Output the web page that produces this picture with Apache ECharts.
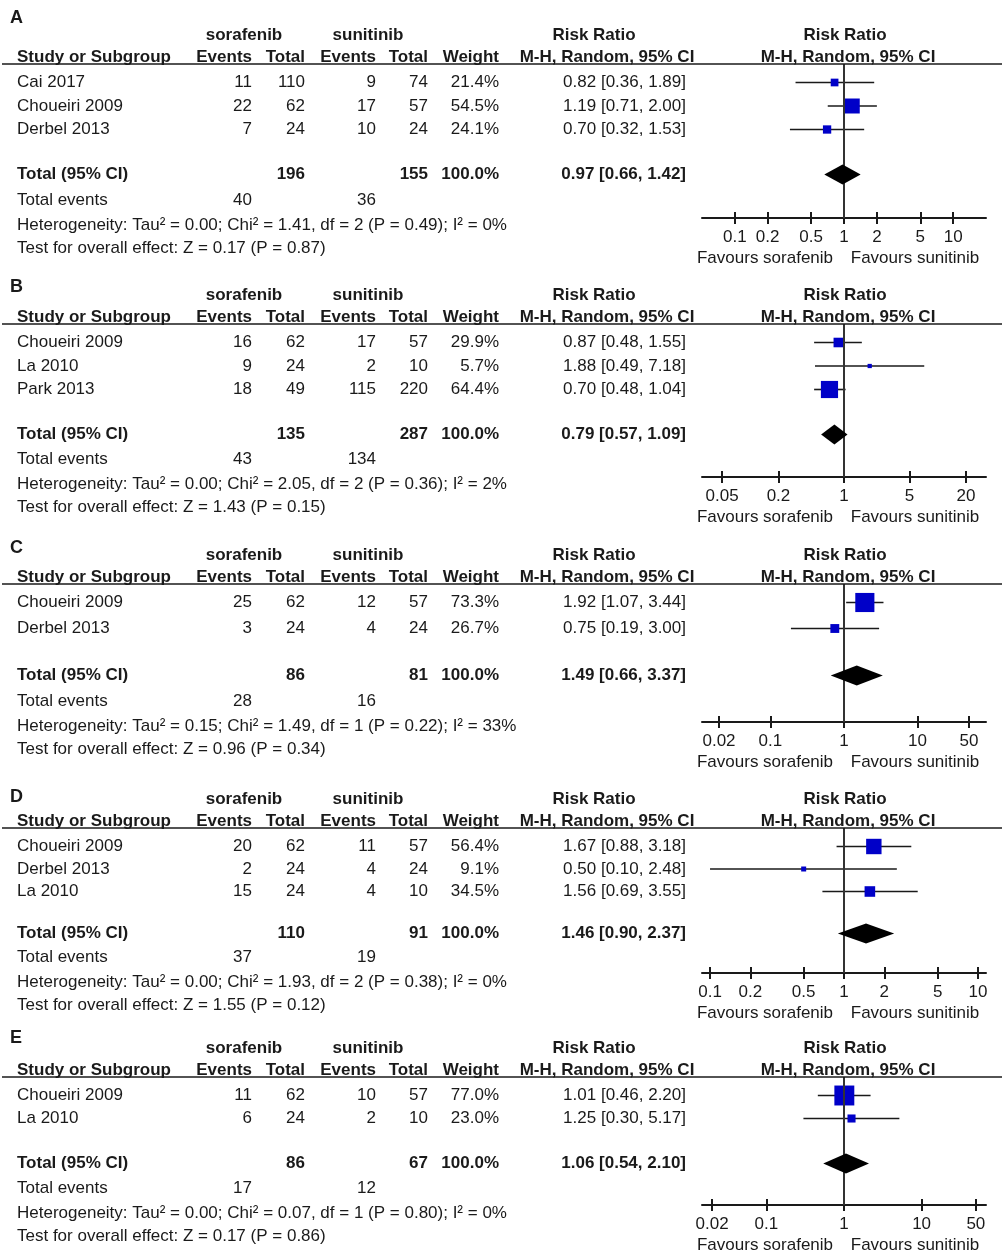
<!DOCTYPE html>
<html><head><meta charset="utf-8">
<script src="https://cdn.jsdelivr.net/npm/echarts@6/dist/echarts.min.js"></script>
<style>html,body{margin:0;padding:0;background:#fff}#c{width:1005px;height:1254px}</style>
</head><body><div id="c"></div>
<script>
// ---------------- DATA ----------------
// Panel A
const studiesA = ['Cai 2017', 'Choueiri 2009', 'Derbel 2013'];
const soraEventsA = [11, 22, 7];
const soraTotalA = [110, 62, 24];
const suniEventsA = [9, 17, 10];
const suniTotalA = [74, 57, 24];
const weightA = [21.4, 54.5, 24.1];
const rrA = [0.82, 1.19, 0.70];
const loA = [0.36, 0.71, 0.32];
const hiA = [1.89, 2.00, 1.53];
const pooledA = [0.97, 0.66, 1.42];
const totalNA = [196, 155];
const totalEventsA = [40, 36];
const hetA = 'Heterogeneity: Tau² = 0.00; Chi² = 1.41, df = 2 (P = 0.49); I² = 0%';
const testA = 'Test for overall effect: Z = 0.17 (P = 0.87)';
const ticksA = [0.1, 0.2, 0.5, 1, 2, 5, 10];

// Panel B
const studiesB = ['Choueiri 2009', 'La 2010', 'Park 2013'];
const soraEventsB = [16, 9, 18];
const soraTotalB = [62, 24, 49];
const suniEventsB = [17, 2, 115];
const suniTotalB = [57, 10, 220];
const weightB = [29.9, 5.7, 64.4];
const rrB = [0.87, 1.88, 0.70];
const loB = [0.48, 0.49, 0.48];
const hiB = [1.55, 7.18, 1.04];
const pooledB = [0.79, 0.57, 1.09];
const totalNB = [135, 287];
const totalEventsB = [43, 134];
const hetB = 'Heterogeneity: Tau² = 0.00; Chi² = 2.05, df = 2 (P = 0.36); I² = 2%';
const testB = 'Test for overall effect: Z = 1.43 (P = 0.15)';
const ticksB = [0.05, 0.2, 1, 5, 20];

// Panel C
const studiesC = ['Choueiri 2009', 'Derbel 2013'];
const soraEventsC = [25, 3];
const soraTotalC = [62, 24];
const suniEventsC = [12, 4];
const suniTotalC = [57, 24];
const weightC = [73.3, 26.7];
const rrC = [1.92, 0.75];
const loC = [1.07, 0.19];
const hiC = [3.44, 3.00];
const pooledC = [1.49, 0.66, 3.37];
const totalNC = [86, 81];
const totalEventsC = [28, 16];
const hetC = 'Heterogeneity: Tau² = 0.15; Chi² = 1.49, df = 1 (P = 0.22); I² = 33%';
const testC = 'Test for overall effect: Z = 0.96 (P = 0.34)';
const ticksC = [0.02, 0.1, 1, 10, 50];

// Panel D
const studiesD = ['Choueiri 2009', 'Derbel 2013', 'La 2010'];
const soraEventsD = [20, 2, 15];
const soraTotalD = [62, 24, 24];
const suniEventsD = [11, 4, 4];
const suniTotalD = [57, 24, 10];
const weightD = [56.4, 9.1, 34.5];
const rrD = [1.67, 0.50, 1.56];
const loD = [0.88, 0.10, 0.69];
const hiD = [3.18, 2.48, 3.55];
const pooledD = [1.46, 0.90, 2.37];
const totalND = [110, 91];
const totalEventsD = [37, 19];
const hetD = 'Heterogeneity: Tau² = 0.00; Chi² = 1.93, df = 2 (P = 0.38); I² = 0%';
const testD = 'Test for overall effect: Z = 1.55 (P = 0.12)';
const ticksD = [0.1, 0.2, 0.5, 1, 2, 5, 10];

// Panel E
const studiesE = ['Choueiri 2009', 'La 2010'];
const soraEventsE = [11, 6];
const soraTotalE = [62, 24];
const suniEventsE = [10, 2];
const suniTotalE = [57, 10];
const weightE = [77.0, 23.0];
const rrE = [1.01, 1.25];
const loE = [0.46, 0.30];
const hiE = [2.20, 5.17];
const pooledE = [1.06, 0.54, 2.10];
const totalNE = [86, 67];
const totalEventsE = [17, 12];
const hetE = 'Heterogeneity: Tau² = 0.00; Chi² = 0.07, df = 1 (P = 0.80); I² = 0%';
const testE = 'Test for overall effect: Z = 0.17 (P = 0.86)';
const ticksE = [0.02, 0.1, 1, 10, 50];

// ---------------- LAYOUT (positions / styles) ----------------
const FONT = '"Liberation Sans", Arial, Helvetica, sans-serif';
const FS = 17;
const INK = '#1a1a1a';
const BLUE = '#0000c8';
const COL = { study: 17, ev1: 252, n1: 305, ev2: 376, n2: 428, w: 499, rr: 686 };
const PLOT_LEFT = 702, PLOT_W = 284;

const panels = [
  { letter: 'A', studies: studiesA, se: soraEventsA, sn: soraTotalA, ue: suniEventsA, un: suniTotalA, w: weightA, rr: rrA, lo: loA, hi: hiA, pooled: pooledA, tn: totalNA, te: totalEventsA, het: hetA, test: testA, ticks: ticksA,
    lay: { letterY: 18, L: 64, axisY: 218, half: 1.30, step: 23.5, gap: 45, evGap: 26 } },
  { letter: 'B', studies: studiesB, se: soraEventsB, sn: soraTotalB, ue: suniEventsB, un: suniTotalB, w: weightB, rr: rrB, lo: loB, hi: hiB, pooled: pooledB, tn: totalNB, te: totalEventsB, het: hetB, test: testB, ticks: ticksB,
    lay: { letterY: 287, L: 324, axisY: 477, half: 1.515, step: 23.5, gap: 45, evGap: 25 } },
  { letter: 'C', studies: studiesC, se: soraEventsC, sn: soraTotalC, ue: suniEventsC, un: suniTotalC, w: weightC, rr: rrC, lo: loC, hi: hiC, pooled: pooledC, tn: totalNC, te: totalEventsC, het: hetC, test: testC, ticks: ticksC,
    lay: { letterY: 548, L: 584, axisY: 722, half: 1.93, step: 26, gap: 47, evGap: 26 } },
  { letter: 'D', studies: studiesD, se: soraEventsD, sn: soraTotalD, ue: suniEventsD, un: suniTotalD, w: weightD, rr: rrD, lo: loD, hi: hiD, pooled: pooledD, tn: totalND, te: totalEventsD, het: hetD, test: testD, ticks: ticksD,
    lay: { letterY: 797, L: 828, axisY: 973, half: 1.06, step: 22.5, gap: 42, evGap: 24 } },
  { letter: 'E', studies: studiesE, se: soraEventsE, sn: soraTotalE, ue: suniEventsE, un: suniTotalE, w: weightE, rr: rrE, lo: loE, hi: hiE, pooled: pooledE, tn: totalNE, te: totalEventsE, het: hetE, test: testE, ticks: ticksE,
    lay: { letterY: 1038, L: 1077, axisY: 1205, half: 1.83, step: 23, gap: 45, evGap: 25 } }
];

const FIRST = 18.5; // offset of first row below header rule

function txt(x, y, s, align, bold, size) {
  return { type: 'text', x: x, y: y, silent: true, z: 10,
    style: { text: s, fill: INK, font: (bold ? 'bold ' : '') + (size || FS) + 'px ' + FONT,
      textAlign: align || 'left', align: align || 'left', textVerticalAlign: 'middle', verticalAlign: 'middle' } };
}
const lg = Math.log10;
const fmtRR = (a, b, c) => a.toFixed(2) + ' [' + b.toFixed(2) + ', ' + c.toFixed(2) + ']';

const grids = [], xAxes = [], yAxes = [], series = [], graphics = [];

panels.forEach((p, k) => {
  const ly = p.lay;
  const n = p.studies.length;
  const totalIdx = (n - 1) + ly.gap / ly.step;
  const rowY = idx => ly.L + FIRST + ly.step * idx;
  const yTot = rowY(totalIdx);
  const yEv = yTot + ly.evGap;
  const yHet = yEv + 24.5;
  const yTest = yHet + 23.5;

  // header
  graphics.push(txt(10, ly.letterY, p.letter, 'left', true, 18));
  graphics.push(txt(244, ly.L - 29, 'sorafenib', 'center', true));
  graphics.push(txt(368, ly.L - 29, 'sunitinib', 'center', true));
  graphics.push(txt(594, ly.L - 29, 'Risk Ratio', 'center', true));
  graphics.push(txt(845, ly.L - 29, 'Risk Ratio', 'center', true));
  const h2 = ly.L - 6.5;
  graphics.push(txt(COL.study, h2, 'Study or Subgroup', 'left', true));
  graphics.push(txt(COL.ev1, h2, 'Events', 'right', true));
  graphics.push(txt(COL.n1, h2, 'Total', 'right', true));
  graphics.push(txt(COL.ev2, h2, 'Events', 'right', true));
  graphics.push(txt(COL.n2, h2, 'Total', 'right', true));
  graphics.push(txt(COL.w, h2, 'Weight', 'right', true));
  graphics.push(txt(607, h2, 'M-H, Random, 95% CI', 'center', true));
  graphics.push(txt(848, h2, 'M-H, Random, 95% CI', 'center', true));
  graphics.push({ type: 'line', silent: true, z: 9, shape: { x1: 2, y1: ly.L, x2: 1002, y2: ly.L }, style: { stroke: INK, lineWidth: 1.6 } });

  // study rows
  p.studies.forEach((s, i) => {
    const y = rowY(i);
    graphics.push(txt(COL.study, y, s, 'left'));
    graphics.push(txt(COL.ev1, y, String(p.se[i]), 'right'));
    graphics.push(txt(COL.n1, y, String(p.sn[i]), 'right'));
    graphics.push(txt(COL.ev2, y, String(p.ue[i]), 'right'));
    graphics.push(txt(COL.n2, y, String(p.un[i]), 'right'));
    graphics.push(txt(COL.w, y, p.w[i].toFixed(1) + '%', 'right'));
    graphics.push(txt(COL.rr, y, fmtRR(p.rr[i], p.lo[i], p.hi[i]), 'right'));
  });
  // total rows
  graphics.push(txt(COL.study, yTot, 'Total (95% CI)', 'left', true));
  graphics.push(txt(COL.n1, yTot, String(p.tn[0]), 'right', true));
  graphics.push(txt(COL.n2, yTot, String(p.tn[1]), 'right', true));
  graphics.push(txt(COL.w, yTot, '100.0%', 'right', true));
  graphics.push(txt(COL.rr, yTot, fmtRR(p.pooled[0], p.pooled[1], p.pooled[2]), 'right', true));
  graphics.push(txt(COL.study, yEv, 'Total events', 'left'));
  graphics.push(txt(COL.ev1, yEv, String(p.te[0]), 'right'));
  graphics.push(txt(COL.ev2, yEv, String(p.te[1]), 'right'));
  graphics.push(txt(COL.study, yHet, p.het, 'left'));
  graphics.push(txt(COL.study, yTest, p.test, 'left'));

  // favours
  graphics.push(txt(765, ly.axisY + 40, 'Favours sorafenib', 'center'));
  graphics.push(txt(915, ly.axisY + 40, 'Favours sunitinib', 'center'));

  // forest plot grid
  grids.push({ left: PLOT_LEFT, width: PLOT_W, top: ly.L, height: ly.axisY - ly.L, containLabel: false });
  const tickVals = p.ticks.map(lg);
  const labelFmt = v => { for (const t of p.ticks) { if (Math.abs(lg(t) - v) < 1e-6) return String(t); } return ''; };
  xAxes.push({ gridIndex: k, type: 'value', min: -ly.half, max: ly.half, position: 'bottom',
    axisLine: { show: true, onZero: false, lineStyle: { color: INK, width: 2 } },
    axisTick: { show: true, customValues: tickVals, length: 6, inside: false, lineStyle: { color: INK, width: 2 } },
    axisLabel: { show: true, customValues: tickVals, formatter: labelFmt, margin: 11, fontSize: FS, color: INK, fontFamily: FONT },
    splitLine: { show: false } });
  xAxes.push({ gridIndex: k, type: 'value', min: -ly.half, max: ly.half, position: 'bottom',
    axisLine: { show: false, onZero: false },
    axisTick: { show: true, customValues: tickVals, length: 6, inside: true, lineStyle: { color: INK, width: 2 } },
    axisLabel: { show: false }, splitLine: { show: false } });
  yAxes.push({ gridIndex: k, type: 'value', inverse: true, show: false,
    min: -FIRST / ly.step, max: (ly.axisY - ly.L - FIRST) / ly.step });

  const xi = k * 2;
  // CI whiskers + vertical line of no effect
  series.push({ type: 'custom', xAxisIndex: xi, yAxisIndex: k, z: 2, clip: false,
    encode: { x: [0, 1], y: 2 },
    data: p.studies.map((s, i) => [lg(p.lo[i]), lg(p.hi[i]), i]),
    renderItem: (params, api) => {
      const a = api.coord([api.value(0), api.value(2)]);
      const b = api.coord([api.value(1), api.value(2)]);
      return { type: 'line', shape: { x1: a[0], y1: a[1], x2: b[0], y2: b[1] }, style: { stroke: INK, lineWidth: 1.6 } };
    },
    markLine: { silent: true, symbol: 'none', label: { show: false }, animation: false,
      lineStyle: { color: '#333', width: 2, type: 'solid' }, data: [{ xAxis: 0 }] }
  });
  // study squares
  series.push({ type: 'scatter', xAxisIndex: xi, yAxisIndex: k, z: 4, symbol: 'rect',
    data: p.studies.map((s, i) => [lg(p.rr[i]), i, p.w[i]]),
    symbolSize: v => 3 + 0.22 * v[2],
    itemStyle: { color: BLUE, opacity: 1 }, emphasis: { disabled: true } });
  // pooled diamond
  series.push({ type: 'custom', xAxisIndex: xi, yAxisIndex: k, z: 5, clip: false,
    encode: { x: [0, 1, 2], y: 3 },
    data: [[lg(p.pooled[0]), lg(p.pooled[1]), lg(p.pooled[2]), totalIdx]],
    renderItem: (params, api) => {
      const c = api.coord([api.value(0), api.value(3)]);
      const l = api.coord([api.value(1), api.value(3)]);
      const r = api.coord([api.value(2), api.value(3)]);
      const h = 10;
      return { type: 'polygon', shape: { points: [[l[0], c[1]], [c[0], c[1] - h], [r[0], c[1]], [c[0], c[1] + h]] }, style: { fill: '#000' } };
    }
  });
});

const chart = echarts.init(document.getElementById('c'), null, { renderer: 'canvas' });
chart.setOption({
  animation: false,
  backgroundColor: '#ffffff',
  grid: grids, xAxis: xAxes, yAxis: yAxes, series: series,
  graphic: { elements: graphics }
});
</script>
</body></html>
